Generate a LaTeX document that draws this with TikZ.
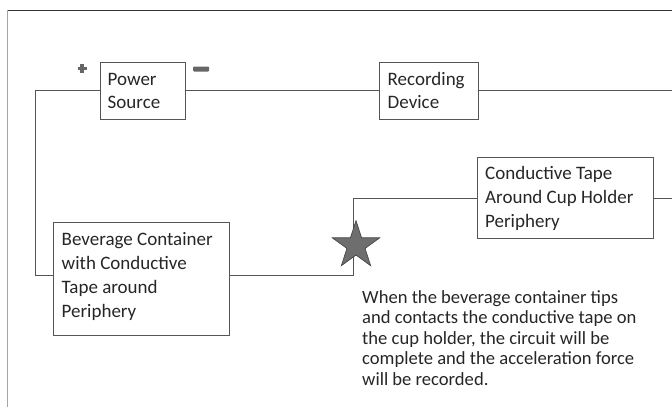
\documentclass[tikz,border=0pt]{standalone}
\usepackage{fontspec}
\setmainfont{Carlito}
\usetikzlibrary{shapes.geometric}
\definecolor{txt}{HTML}{262626}
\definecolor{wire}{HTML}{555555}
\definecolor{starfill}{HTML}{6E6E6E}
\tikzset{
  box/.style={draw=wire, line width=0.9pt, rectangle, inner sep=0pt},
  boxtext/.style={anchor=base west, inner sep=0pt, text=txt, align=left},
  wireline/.style={draw=wire, line width=0.9pt},
  para/.style={anchor=base west, inner sep=0pt, text=txt}
}
\begin{document}
\begin{tikzpicture}[x=1pt,y=-1pt]
\useasboundingbox (0,0) rectangle (672,407);
% outer frame
\draw[draw=black!80, line width=0.9pt] (7,10) -- (672,10);
\draw[draw=black!35, line width=0.8pt] (7,10) -- (7,407);
% boxes
\node[box, minimum width=85pt, minimum height=57pt] (ps) at (142.5,90.5) {};
\node[box, minimum width=99pt, minimum height=57pt] (rd) at (428.5,90.5) {};
\node[box, minimum width=176pt, minimum height=113pt] (bc) at (141,278.5) {};
\node[box, minimum width=176pt, minimum height=81pt] (ct) at (565,197.5) {};
% texts
\node[boxtext] (tps) at (107.5,85) {\parbox[t]{80pt}{\fontsize{19}{23.5}\selectfont Power\\Source}};
\node[boxtext] (trd) at (387.5,85) {\parbox[t]{95pt}{\fontsize{19}{23.5}\selectfont Recording\\Device}};
\node[boxtext] (tbc) at (61.5,245) {\parbox[t]{170pt}{\fontsize{19}{24}\selectfont Beverage Container\\with Conductive\\Tape around\\Periphery}};
\node[boxtext] (tct) at (485,179) {\parbox[t]{170pt}{\fontsize{19}{24}\selectfont Conductive Tape\\Around Cup Holder\\Periphery}};
\node[para] (note) at (362,303) {\parbox[t]{310pt}{\fontsize{18.6}{20.5}\selectfont
When the beverage container tips\\
and contacts the conductive tape on\\
the cup holder, the circuit will be\\
complete and the acceleration force\\
will be recorded.}};
% coordinates
\coordinate (lc) at (35,275);
\coordinate (j1) at (353,275);
\coordinate (j2) at (353,198);
\coordinate (e1) at (672,90.5);
\coordinate (e2) at (672,198);
% wires
\draw[wireline] (ps.west) -| (lc) -- (bc.west |- lc);
\draw[wireline] (ps.east) -- (rd.west);
\draw[wireline] (rd.east) -- (e1);
\draw[wireline] (bc.east |- j1) -- (j1) -- (j2) -- (ct.west |- j2);
\draw[wireline] (ct.east |- e2) -- (e2);
% star
\node[star, star points=5, star point ratio=2.618, minimum size=50pt, inner sep=0pt,
      fill=starfill, draw=black!75, line width=0.6pt] (st) at (356,245.5) {};
% polarity marks
\draw[draw=black!60, line width=3.4pt] (77.5,68.5) -- (86.5,68.5);
\draw[draw=black!60, line width=3.4pt] (82,64) -- (82,73);
\fill[black!60, rounded corners=1pt] (193,66.5) rectangle (209,71.5);
\end{tikzpicture}
\end{document}
